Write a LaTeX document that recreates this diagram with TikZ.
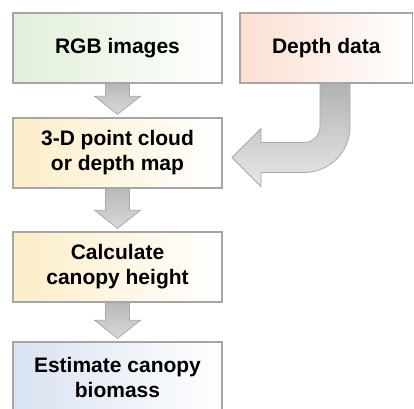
\documentclass[tikz,border=0pt]{standalone}
\usepackage{fontspec}
\setmainfont{Liberation Sans}
\usetikzlibrary{positioning,calc}
\definecolor{boxline}{HTML}{A6A6A6}
\definecolor{arrowline}{HTML}{A8A8A8}
\definecolor{rgbgreen}{HTML}{E1EFD9}
\definecolor{depthpeach}{HTML}{FADFD2}
\definecolor{stepyellow}{HTML}{FDEDC8}
\definecolor{endblue}{HTML}{D9E2F1}
\begin{document}
\begin{tikzpicture}[node distance=5mm,
                    box/.style={draw=boxline, rectangle, line width=1.5pt, minimum width=209pt, minimum height=70pt,
                                align=center, right color=white, font=\fontsize{21pt}{25pt}\selectfont\bfseries},
                    fatarrow/.style={draw=arrowline, line width=0.8pt, top color=gray!55, bottom color=gray!30},
                    bentarrow/.style={draw=arrowline, line width=0.8pt, top color=gray!60, bottom color=gray!18}]
  \useasboundingbox (0,0) rectangle (414pt,-408pt);
  \clip (0,0) rectangle (414pt,-408pt);
  \node(rgb)[box, left color=rgbgreen] at (117.5pt,-48pt){RGB images};
  \node(depth)[box, left color=depthpeach, minimum width=172.5pt, right=16.5pt of rgb]{Depth data};
  \node(cloud)[box, left color=stepyellow, below=33.5pt of rgb]{3-D point cloud\\or depth map};
  \node(canopy)[box, left color=stepyellow, below=42.5pt of cloud]{Calculate\\canopy height};
  \node(biomass)[box, left color=endblue, below=38.5pt of canopy]{Estimate canopy\\biomass};
  \foreach \a/\b in {rgb/cloud, cloud/canopy, canopy/biomass}
    \path[fatarrow] let \p1=(\a.south), \p2=(\b.north) in
      (\x1-12pt,\y1) -- (\x1-12pt,\y2+21pt) -- (\x1-23pt,\y2+21pt) -- (\x1,\y2+3pt)
      -- (\x1+23pt,\y2+21pt) -- (\x1+12pt,\y2+21pt) -- (\x1+12pt,\y1) -- cycle;
  \coordinate (shaft) at ($(depth.south)+(8.75pt,0)$);
  \coordinate (tip) at ($(cloud.east)+(9.25pt,-4.5pt)$);
  \path[bentarrow] let \p1=(shaft), \p2=(tip) in
    (\x1-15pt,\y1) -- (\x1-15pt,\y2+31pt) arc[start angle=0, end angle=-90, radius=16pt]
    -- (\x2+29pt,\y2+15pt) -- (\x2+29pt,\y2+29pt) -- (\x2,\y2) -- (\x2+29pt,\y2-29pt)
    -- (\x2+29pt,\y2-15pt) -- (\x1-31pt,\y2-15pt) arc[start angle=-90, end angle=0, radius=46pt]
    -- (\x1+15pt,\y1) -- cycle;
\end{tikzpicture}
\end{document}
